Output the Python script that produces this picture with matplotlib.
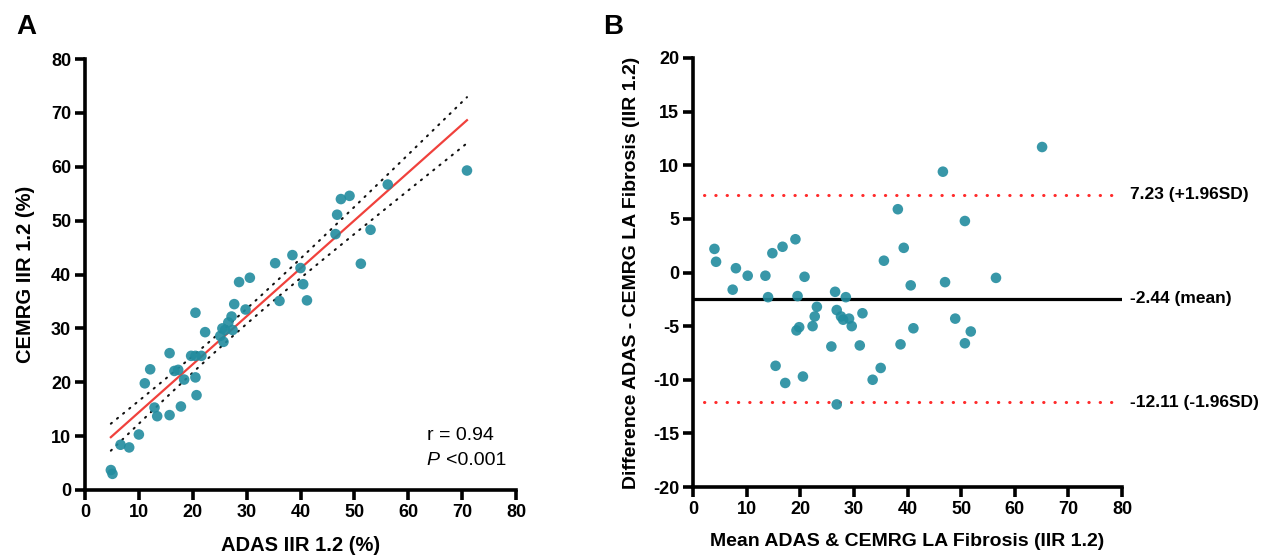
import numpy as np
import matplotlib
matplotlib.use("Agg")
import matplotlib.pyplot as plt

plt.rcParams["font.family"] = ["Liberation Sans", "DejaVu Sans"]
plt.rcParams["font.weight"] = "bold"
plt.rcParams["axes.labelweight"] = "bold"
plt.rcParams["axes.unicode_minus"] = False

TEAL, RED = "#228c9f", "#f0413c"

# Panel A: ADAS vs CEMRG fibrosis (%)
adas = [4.8, 5.1, 6.6, 8.2, 10.0, 11.1, 12.1, 12.9, 13.4, 15.7, 15.7, 16.6, 17.3,
        17.8, 18.4, 19.7, 20.5, 20.5, 20.7, 20.5, 21.6, 22.3, 25.1, 25.5, 25.7,
        26.0, 26.6, 27.2, 27.4, 27.7, 28.6, 29.8, 30.6, 35.3, 36.1, 38.5, 40.0,
        40.5, 41.2, 46.5, 46.8, 47.5, 49.1, 51.2, 53.0, 56.2, 70.9]
cemrg = [3.7, 3.0, 8.4, 7.9, 10.3, 19.8, 22.4, 15.3, 13.7, 13.9, 25.4, 22.1, 22.3,
         15.5, 20.5, 24.9, 32.9, 20.9, 17.6, 24.9, 24.9, 29.3, 28.6, 30.0, 27.5,
         29.7, 31.1, 32.2, 29.7, 34.5, 38.6, 33.5, 39.4, 42.1, 35.1, 43.6, 41.2,
         38.2, 35.2, 47.5, 51.1, 54.0, 54.6, 42.0, 48.3, 56.7, 59.3]
r_text = "r = 0.94"
p_text = "<0.001"

# Panel B: Bland-Altman
ba_mean = [4.0, 4.3, 8.0, 7.4, 10.2, 13.5, 14.0, 14.8, 16.7, 19.1, 20.8, 19.5,
           15.4, 17.2, 20.5, 19.3, 19.8, 22.3, 22.7, 23.1, 25.8, 26.5, 26.8, 26.8,
           27.6, 28.0, 28.5, 29.1, 29.6, 31.1, 31.6, 33.5, 35.0, 35.6, 38.2, 38.7,
           39.3, 40.6, 41.1, 46.6, 47.0, 48.9, 50.7, 50.7, 51.8, 56.5, 65.1]
ba_diff = [2.2, 1.0, 0.4, -1.6, -0.3, -0.3, -2.3, 1.8, 2.4, 3.1, -0.4, -2.2,
           -8.7, -10.3, -9.7, -5.4, -5.1, -5.0, -4.1, -3.2, -6.9, -1.8, -3.5, -12.3,
           -4.1, -4.4, -2.3, -4.3, -5.0, -6.8, -3.8, -10.0, -8.9, 1.1, 5.9, -6.7,
           2.3, -1.2, -5.2, 9.4, -0.9, -4.3, 4.8, -6.6, -5.5, -0.5, 11.7]
bias, loa_hi, loa_lo = -2.44, 7.23, -12.11


def style_axes(ax):
    for s in ["top", "right"]:
        ax.spines[s].set_visible(False)
    for s in ["left", "bottom"]:
        ax.spines[s].set_linewidth(2.6)
    ax.tick_params(width=2.6, length=7, labelsize=13, pad=3)


fig = plt.figure(figsize=(12.68, 5.6), dpi=100)

# ---- A ----
ax = fig.add_axes([85 / 1268, 70 / 560, 431 / 1268, 431 / 560])
x = np.array(adas); y = np.array(cemrg)
slope, icpt = np.polyfit(x, y, 1)
xs = np.linspace(x.min(), x.max(), 200)
n = len(x)
resid = y - (slope * x + icpt)
s_err = np.sqrt(np.sum(resid ** 2) / (n - 2))
half = 2.014 * s_err * np.sqrt(1 / n + (xs - x.mean()) ** 2 / np.sum((x - x.mean()) ** 2))
fit = slope * xs + icpt
ax.plot(xs, fit, color=RED, lw=1.6, zorder=3)
for band in (fit + half, fit - half):
    ax.plot(xs, band, color="#111", lw=1.5, ls=(0, (0.6, 3.2)),
            dash_capstyle="round", zorder=2)
ax.scatter(x, y, s=58, color=TEAL, alpha=0.9, edgecolors="none", zorder=4)
ax.set_xlim(0, 80); ax.set_ylim(0, 80)
ax.set_xticks(range(0, 81, 10)); ax.set_yticks(range(0, 81, 10))
style_axes(ax)
ax.set_xlabel("ADAS IIR 1.2 (%)", fontsize=14.5)
ax.set_ylabel("CEMRG IIR 1.2 (%)", fontsize=14.5)
ax.xaxis.set_label_coords(0.5, -0.107)
ax.yaxis.set_label_coords(-0.115, 0.5)
ax.xaxis.label.set_va("top")
ax.text(63.4, 10.2, r_text, fontsize=14, fontweight="normal", va="center")
ax.text(63.4, 5.5, "P", fontsize=14, fontweight="normal", style="italic", va="center")
ax.annotate(p_text, (63.4, 5.5), xytext=(14, 0), textcoords="offset points",
            fontsize=14, fontweight="normal", va="center")
fig.text(16 / 1268, 1 - 27 / 560, "A", fontsize=20, va="center")

# ---- B ----
bx = fig.add_axes([693 / 1268, 73 / 560, 429 / 1268, 429 / 560])
bx.axhline(bias, color="black", lw=2.3, zorder=2)
for v in (loa_hi, loa_lo):
    bx.plot([2, 80], [v, v], color="#ff2a2a", lw=2.2, ls=(0, (0.1, 3.6)),
            dash_capstyle="round", zorder=2)
bx.scatter(ba_mean, ba_diff, s=58, color=TEAL, alpha=0.9, edgecolors="none", zorder=4)
bx.set_xlim(0, 80); bx.set_ylim(-20, 20)
bx.set_xticks(range(0, 81, 10)); bx.set_yticks(range(-20, 21, 5))
style_axes(bx)
bx.set_xlabel("Mean ADAS & CEMRG LA Fibrosis (IIR 1.2)", fontsize=14)
bx.set_ylabel("Difference ADAS - CEMRG LA Fibrosis (IIR 1.2)", fontsize=14)
bx.xaxis.set_label_coords(0.5, -0.107)
bx.yaxis.set_label_coords(-0.124, 0.5)
bx.xaxis.label.set_va("top")
for v, lab in [(loa_hi, f"{loa_hi:.2f} (+1.96SD)"), (bias, f"{bias:.2f} (mean)"),
               (loa_lo, f"{loa_lo:.2f} (-1.96SD)")]:
    bx.text(81.4, v, lab, fontsize=12.5, va="center", clip_on=False)
fig.text(603 / 1268, 1 - 27 / 560, "B", fontsize=20, va="center")

fig.savefig("out.png", dpi=100)
